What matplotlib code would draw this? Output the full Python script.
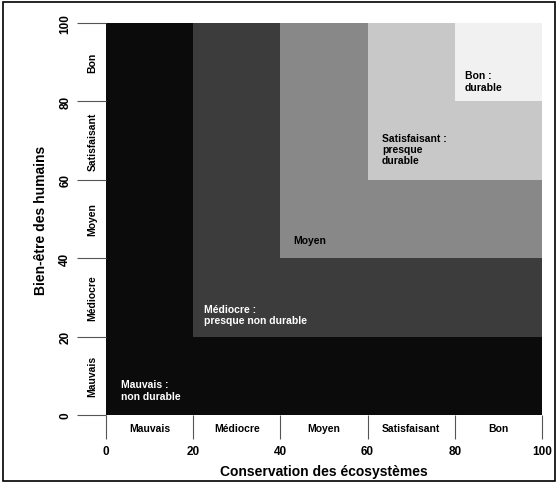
import matplotlib
matplotlib.use("Agg")
import matplotlib.pyplot as plt
from matplotlib.patches import Rectangle

plt.rcParams['font.family'] = ['Liberation Sans', 'DejaVu Sans']
plt.rcParams['font.weight'] = 'bold'

# niveaux (bornes basses des zones) et teintes
bounds = [0, 20, 40, 60, 80]
shades = ['#0b0b0b', '#3c3c3c', '#888888', '#c8c8c8', '#f1f1f1']
categories = ['Mauvais', 'Médiocre', 'Moyen', 'Satisfaisant', 'Bon']
major_ticks = [0, 20, 40, 60, 80, 100]
cat_pos = [10, 30, 50, 70, 90]

zone_text = ['Mauvais :\nnon durable', 'Médiocre :\npresque non durable', 'Moyen',
             'Satisfaisant :\npresque\ndurable', 'Bon :\ndurable']
text_x = [3.4, 22.5, 43, 63.3, 82.3]
text_y = [6.4, 25.6, 44.6, 67.9, 85.2]
text_col = ['white', 'white', 'black', 'black', 'black']

fig = plt.figure(figsize=(5.58, 4.85), dpi=100)
ax = fig.add_axes([106 / 558, 69 / 485, 436 / 558, 392 / 485])

for lo, c in zip(bounds, shades):
    ax.add_patch(Rectangle((lo, lo), 100 - lo, 100 - lo, facecolor=c, edgecolor='none'))

for t, x, y, c in zip(zone_text, text_x, text_y, text_col):
    ax.text(x, y, t, color=c, fontsize=7.5, fontweight='bold', va='center', ha='left',
            linespacing=1.15)

ax.set_xlim(0, 100)
ax.set_ylim(0, 100)
for s in ax.spines.values():
    s.set_visible(False)

ax.set_xticks(major_ticks)
ax.set_yticks(major_ticks)
ax.set_xticks(cat_pos, minor=True)
ax.set_yticks(cat_pos, minor=True)
ax.set_xticklabels([str(t) for t in major_ticks], fontsize=8.5, fontweight='bold')
ax.set_yticklabels([str(t) for t in major_ticks], fontsize=8.5, fontweight='bold',
                   rotation=90, va='center')
ax.set_xticklabels(categories, minor=True, fontsize=7.5, fontweight='bold')
ax.set_yticklabels(categories, minor=True, fontsize=7.5, fontweight='bold',
                   rotation=90, va='center')

ax.tick_params(axis='x', which='major', length=17.5, width=0.8, color='#555555', pad=4)
ax.tick_params(axis='y', which='major', length=21, width=0.8, color='#555555', pad=4)
ax.tick_params(axis='x', which='minor', length=0, pad=6)
ax.tick_params(axis='y', which='minor', length=0, pad=6)

ax.set_xlabel('Conservation des écosystèmes', fontsize=10, fontweight='bold', labelpad=5)
ax.set_ylabel('Bien-être des humains', fontsize=10, fontweight='bold', labelpad=8)

fig.patches.append(Rectangle((3 / 558, 3 / 485), 552 / 558, 479 / 485, transform=fig.transFigure,
                             fill=False, edgecolor='black', linewidth=1.2))

fig.savefig('out.png', dpi=100)
